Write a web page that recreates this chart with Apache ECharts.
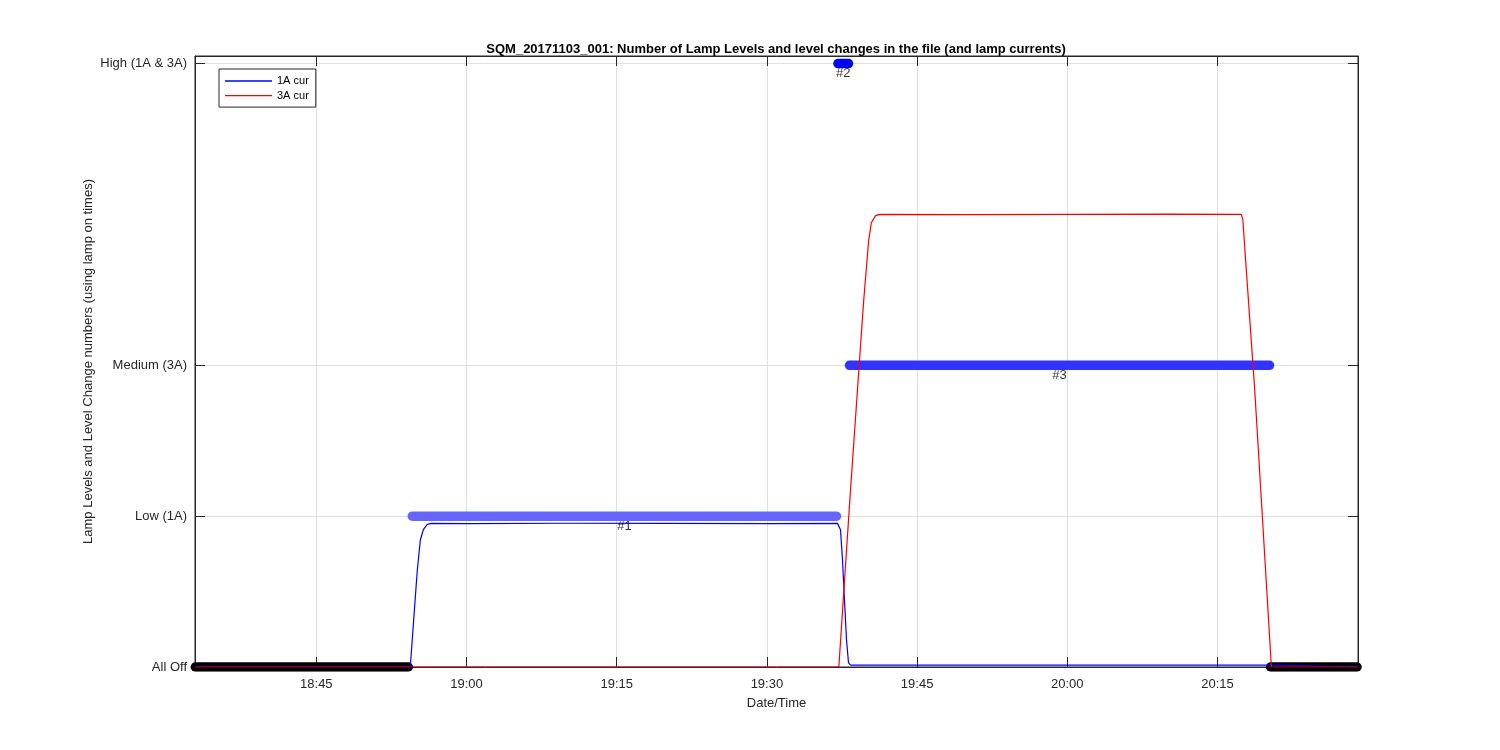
<!DOCTYPE html>
<html><head><meta charset="utf-8">
<script src="https://cdn.jsdelivr.net/npm/echarts@6/dist/echarts.min.js"></script>
<style>html,body{margin:0;padding:0;background:#fff}#c{width:1500px;height:750px}</style>
</head><body><div id="c"></div>
<script>
// ---- data ----
const xTickLabels = ['18:45','19:00','19:15','19:30','19:45','20:00','20:15'];
const yTickValues = [0, 1, 2, 4];
const yTickLabels = ['All Off', 'Low (1A)', 'Medium (3A)', 'High (1A & 3A)'];
const xRange = ['18:32:53', '20:29:02'];

const cur1ATimes = ['18:32:53','18:54:23','18:54:53','18:55:05','18:55:23','18:55:41','18:56:05','18:56:29',
  '19:00:00','19:10:00','19:20:00','19:30:00','19:37:03','19:37:21','19:37:33','19:37:45','19:37:57',
  '19:38:09','19:38:21','20:00:00','20:20:20','20:20:30','20:29:02'];
const cur1AValues = [0,0,0.46,0.64,0.84,0.91,0.945,0.952,
  0.951,0.953,0.952,0.951,0.952,0.91,0.71,0.44,0.18,
  0.027,0.013,0.013,0.012,0,0];

const cur3ATimes = ['18:32:53','19:37:11','19:38:21','19:39:40','19:40:10','19:40:26','19:40:50','19:41:14',
  '19:50:00','20:00:00','20:10:00','20:17:23','20:17:32','20:17:47','20:18:43','20:20:23','20:29:02'];
const cur3AValues = [0,0,1.174,2.43,2.83,2.945,2.99,3.0,
  2.998,3.0,3.002,3.0,2.965,2.72,1.84,0,0];

const levelNames = ['', '#1', '#2', '#3', ''];
const levelStart = ['18:32:55','18:54:35','19:37:06','19:38:15','20:20:18'];
const levelEnd   = ['18:54:11','19:36:57','19:38:09','20:20:12','20:28:56'];
const levelValue = [0, 1, 4, 2, 0];

// ---- styles ----
const levelColors = ['#000000', '#6666ff', '#0000ff', '#3333ff', '#000000'];
const FONT = 'Liberation Sans, Arial, Helvetica, sans-serif';
const TXT = '#262626';

function toMin(s) { const p = s.split(':').map(Number); return p[0] * 60 + p[1] + (p[2] || 0) / 60; }
function fmt(v) { const h = Math.floor(v / 60); const m = Math.round(v - h * 60); return h + ':' + String(m).padStart(2, '0'); }

const xTicks = xTickLabels.map(toMin);
const xMin = toMin(xRange[0]), xMax = toMin(xRange[1]);

const series = [];
levelValue.forEach((v, i) => {
  series.push({
    type: 'line', name: 'level' + i, silent: true, symbol: 'none', z: 2,
    data: [[toMin(levelStart[i]), v], [toMin(levelEnd[i]), v]],
    lineStyle: { width: 9.5, color: levelColors[i], cap: 'round' }
  });
});
series.push({
  type: 'scatter', name: 'levelLabels', silent: true, symbolSize: 1, z: 4,
  itemStyle: { color: 'transparent' },
  data: levelValue.map((v, i) => ({ name: levelNames[i], value: [(toMin(levelStart[i]) + toMin(levelEnd[i])) / 2, v] }))
    .filter(d => d.name),
  label: { show: true, formatter: p => p.name, position: 'bottom', distance: 3, fontSize: 13, fontFamily: FONT, color: '#000' }
});
series.push({
  type: 'line', name: '1A cur', symbol: 'none', z: 3,
  data: cur1ATimes.map((t, i) => [toMin(t), cur1AValues[i]]),
  lineStyle: { width: 1.2, color: '#0000ff' }, itemStyle: { color: '#0000ff' }
});
series.push({
  type: 'line', name: '3A cur', symbol: 'none', z: 3,
  data: cur3ATimes.map((t, i) => [toMin(t), cur3AValues[i]]),
  lineStyle: { width: 1.2, color: '#ff0000' }, itemStyle: { color: '#ff0000' }
});

const axLine = { show: true, onZero: false, lineStyle: { color: TXT, width: 1 } };
const lblStyle = { fontSize: 13, fontFamily: FONT, color: TXT };

const option = {
  animation: false,
  backgroundColor: '#fff',
  title: {
    text: 'SQM_20171103_001: Number of Lamp Levels and level changes in the file (and lamp currents)',
    left: 771, top: 38, textAlign: 'center',
    textStyle: { fontSize: 13, fontWeight: 'bold', fontFamily: FONT, color: '#000' }
  },
  legend: {
    data: ['1A cur', '3A cur'], orient: 'vertical', left: 219, top: 69,
    icon: 'rect',
    padding: [6.5, 7, 6, 6], itemWidth: 47, itemHeight: 1.3, itemGap: 3.6,
    borderColor: TXT, borderWidth: 1, backgroundColor: '#fff', borderRadius: 0,
    textStyle: { fontSize: 11, fontFamily: FONT, color: '#000' }
  },
  grid: { left: 195, right: 142, top: 56, bottom: 83, show: true, borderColor: TXT, borderWidth: 1, backgroundColor: '#fff' },
  xAxis: [
    {
      type: 'value', min: xMin, max: xMax, position: 'bottom',
      axisLine: axLine,
      axisTick: { show: true, inside: true, length: 10, customValues: xTicks, lineStyle: { color: TXT } },
      axisLabel: Object.assign({ customValues: xTicks, formatter: fmt, margin: 11 }, lblStyle),
      splitLine: { show: true, lineStyle: { color: '#dfdfdf', width: 1 } },
      name: 'Date/Time', nameLocation: 'middle', nameGap: 30, nameMoveOverlap: false, nameTextStyle: lblStyle
    },
    {
      type: 'value', min: xMin, max: xMax, position: 'top',
      axisLine: axLine,
      axisTick: { show: true, inside: true, length: 10, customValues: xTicks, lineStyle: { color: TXT } },
      axisLabel: { show: false }, splitLine: { show: false }
    }
  ],
  yAxis: [
    {
      type: 'value', min: 0, max: 4.05, position: 'left',
      axisLine: axLine,
      axisTick: { show: true, inside: true, length: 10, customValues: yTickValues, lineStyle: { color: TXT } },
      axisLabel: Object.assign({ customValues: yTickValues, margin: 8,
        formatter: v => yTickLabels[yTickValues.indexOf(v)] }, lblStyle),
      splitLine: { show: true, lineStyle: { color: '#dfdfdf', width: 1 } },
      name: 'Lamp Levels and Level Change numbers (using lamp on times)', nameLocation: 'middle', nameGap: 100,
      nameMoveOverlap: false, nameTextStyle: lblStyle
    },
    {
      type: 'value', min: 0, max: 4.05, position: 'right',
      axisLine: axLine,
      axisTick: { show: true, inside: true, length: 10, customValues: yTickValues, lineStyle: { color: TXT } },
      axisLabel: { show: false }, splitLine: { show: false }
    }
  ],
  series: series
};

const chart = echarts.init(document.getElementById('c'), null, { renderer: 'canvas' });
chart.setOption(option);
</script>
</body></html>
